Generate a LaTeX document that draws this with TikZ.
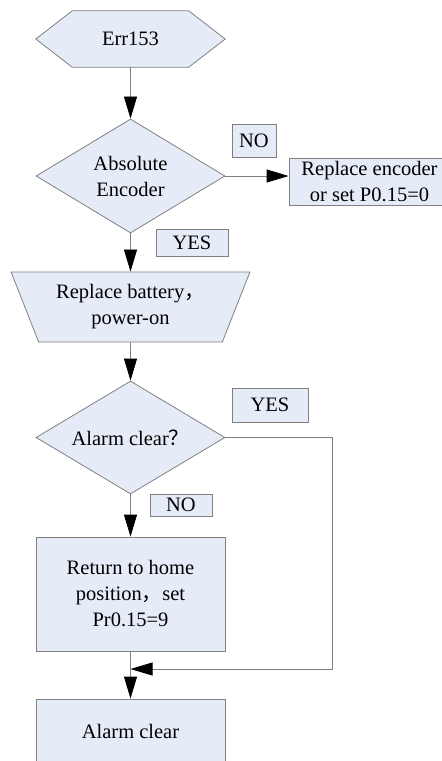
\documentclass[tikz,border=0pt]{standalone}
\usepackage{fontspec}
\setmainfont{Liberation Serif}
\newfontfamily\cjk{Noto Sans CJK SC}
\usetikzlibrary{arrows.meta,positioning,calc,shapes.geometric,backgrounds}
\definecolor{boxfill}{RGB}{230,236,247}
\definecolor{edgegray}{RGB}{128,128,128}

\begin{document}
\begin{tikzpicture}[>={Triangle[length=22pt,width=13pt,color=black]},x=1pt,y=-1pt,
 font=\fontsize{20.5}{26}\selectfont,
 line/.style={draw=edgegray,line width=0.8pt},
 box/.style={line,fill=boxfill,rectangle,align=center,inner sep=0pt},
 dia/.style={box,diamond,aspect=1.66,minimum width=189pt,minimum height=114pt},
 trap/.style={box,trapezium,shape border rotate=180,trapezium left angle=63.4,trapezium right angle=63.4,trapezium stretches=true},
 lab/.style={box}]
\useasboundingbox (0,0) rectangle (442,761);
\node[inner sep=0pt,minimum width=189pt,minimum height=56pt] (err) at (130.5,39) {Err153};
\node[dia] (absenc) at (130.5,176) {Absolute\\Encoder};
\node[lab,minimum width=44pt,minimum height=33pt] (no1) at (254,140.5) {NO};
\node[box,minimum width=161pt,minimum height=47pt] (repenc) at (369.5,181.5) {Replace encoder\\or set P0.15=0};
\node[lab,minimum width=72pt,minimum height=27pt] (yes1) at (192,242.5) {YES};
\node[trap,minimum width=239pt,minimum height=70pt] (battery) at (130.5,307) {Replace battery{\cjk ，}\\power-on};
\node[dia,minimum height=113pt] (alarm) at (130.5,437.5) {Alarm clear{\cjk ？}};
\node[lab,minimum width=76pt,minimum height=34pt] (yes2) at (270,405) {YES};
\node[lab,minimum width=62pt,minimum height=22pt] (no2) at (181,505) {NO};
\node[box,minimum width=189pt,minimum height=114pt] (home) at (130.5,594) {Return to home\\position{\cjk ，}set\\Pr0.15=9};
\node[box,minimum width=189pt,minimum height=65pt] (clear) at (130.5,731.5) {Alarm clear};
\coordinate (turn) at (332,669);
\coordinate (join) at (home.south |- turn);
% hexagon outline behind the start node
\begin{scope}[on background layer]
\filldraw[line,fill=boxfill] (err.west) -- ($(err.north west)+(36.5,0)$) -- ($(err.north east)+(-36.5,0)$)
 -- (err.east) -- ($(err.south east)+(-36.5,0)$) -- ($(err.south west)+(36.5,0)$) -- cycle;
\end{scope}
\draw[line,->] (err) -- (absenc);
\draw[line,->] (absenc.east) -- (absenc.east -| repenc.west);
\draw[line,->] (absenc) -- (battery);
\draw[line,->] (battery) -- (alarm);
\draw[line,->] (alarm) -- (home);
\draw[line,->] (home) -- (clear);
\draw[line,->] (alarm.east) -| (turn) -- (join);
\end{tikzpicture}
\end{document}
